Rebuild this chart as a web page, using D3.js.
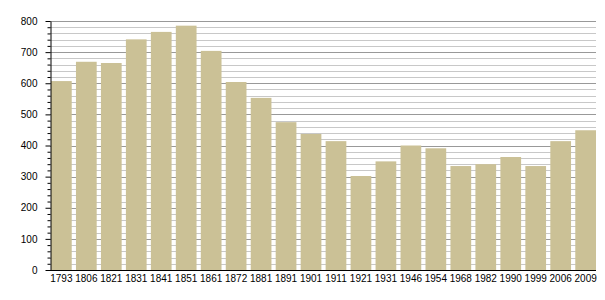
<!DOCTYPE html>
<html>
<head>
<meta charset="utf-8">
<script src="https://cdn.jsdelivr.net/npm/d3@7"></script>
<style>
  body { margin: 0; background: #fff; }
  text { font-family: "Liberation Sans", Arial, sans-serif; font-size: 10px; fill: #000; }
</style>
</head>
<body>
<svg id="chart" width="605" height="300"></svg>
<script>
// census years and population
var years = ["1793", "1806", "1821", "1831", "1841", "1851", "1861", "1872", "1881", "1891", "1901",
             "1911", "1921", "1931", "1946", "1954", "1968", "1982", "1990", "1999", "2006", "2009"];
var population = [607, 669, 665, 741, 765, 785, 704, 604, 553, 475, 437,
                  414, 302, 349, 400, 391, 334, 340, 363, 334, 414, 449];
var yTicks = [0, 100, 200, 300, 400, 500, 600, 700, 800];

var svg = d3.select("#chart");
var margin = {top: 21, right: 9, bottom: 30, left: 50};
var width = +svg.attr("width");
var height = +svg.attr("height");

var x = d3.scaleBand()
  .domain(years)
  .range([margin.left + 1, width - margin.right])
  .paddingInner(0.17)
  .paddingOuter(0);

var y = d3.scaleLinear()
  .domain([0, 800])
  .range([height - margin.bottom, margin.top]);

// minor gridlines every 20
var minor = d3.range(0, 801, 20).filter(v => v % 100 != 0);
svg.append("g")
  .selectAll("line")
  .data(minor)
  .enter().append("line")
  .attr("x1", margin.left)
  .attr("x2", width - margin.right)
  .attr("y1", d => Math.round(y(d)) + 0.5)
  .attr("y2", d => Math.round(y(d)) + 0.5)
  .attr("stroke", "#c8c8c8")
  .attr("stroke-width", 1);

// major gridlines every 100
svg.append("g")
  .selectAll("line")
  .data(yTicks.filter(v => v > 0))
  .enter().append("line")
  .attr("x1", margin.left)
  .attr("x2", width - margin.right)
  .attr("y1", d => Math.round(y(d)) + 0.5)
  .attr("y2", d => Math.round(y(d)) + 0.5)
  .attr("stroke", "#999")
  .attr("stroke-width", 1);

// bars
svg.append("g")
  .selectAll("rect")
  .data(years)
  .enter().append("rect")
  .attr("x", d => x(d))
  .attr("width", x.bandwidth())
  .attr("y", (d, i) => y(population[i]))
  .attr("height", (d, i) => y(0) - y(population[i]))
  .attr("fill", "#cbc196");

// y axis with minor ticks
var yMinor = svg.append("g")
  .attr("transform", `translate(${margin.left + 0.5}, 0)`)
  .call(d3.axisLeft(y).tickValues(minor).tickSize(3).tickFormat(""));
yMinor.select(".domain").remove();

var yAxis = svg.append("g")
  .attr("transform", `translate(${margin.left + 0.5}, 0)`)
  .call(d3.axisLeft(y).tickValues(yTicks).tickSize(5).tickSizeOuter(0).tickPadding(8));
yAxis.selectAll("text").style("font-size", "10px").style("font-family", "Liberation Sans, Arial, sans-serif");

// x axis
var xAxis = svg.append("g")
  .attr("transform", `translate(0, ${Math.round(y(0)) + 0.5})`)
  .call(d3.axisBottom(x).tickSize(0).tickSizeOuter(0).tickPadding(4));
xAxis.select(".domain")
  .attr("d", `M${margin.left},0H${width - margin.right}`);
xAxis.selectAll("text").style("font-size", "10px").style("font-family", "Liberation Sans, Arial, sans-serif");
</script>
</body>
</html>
